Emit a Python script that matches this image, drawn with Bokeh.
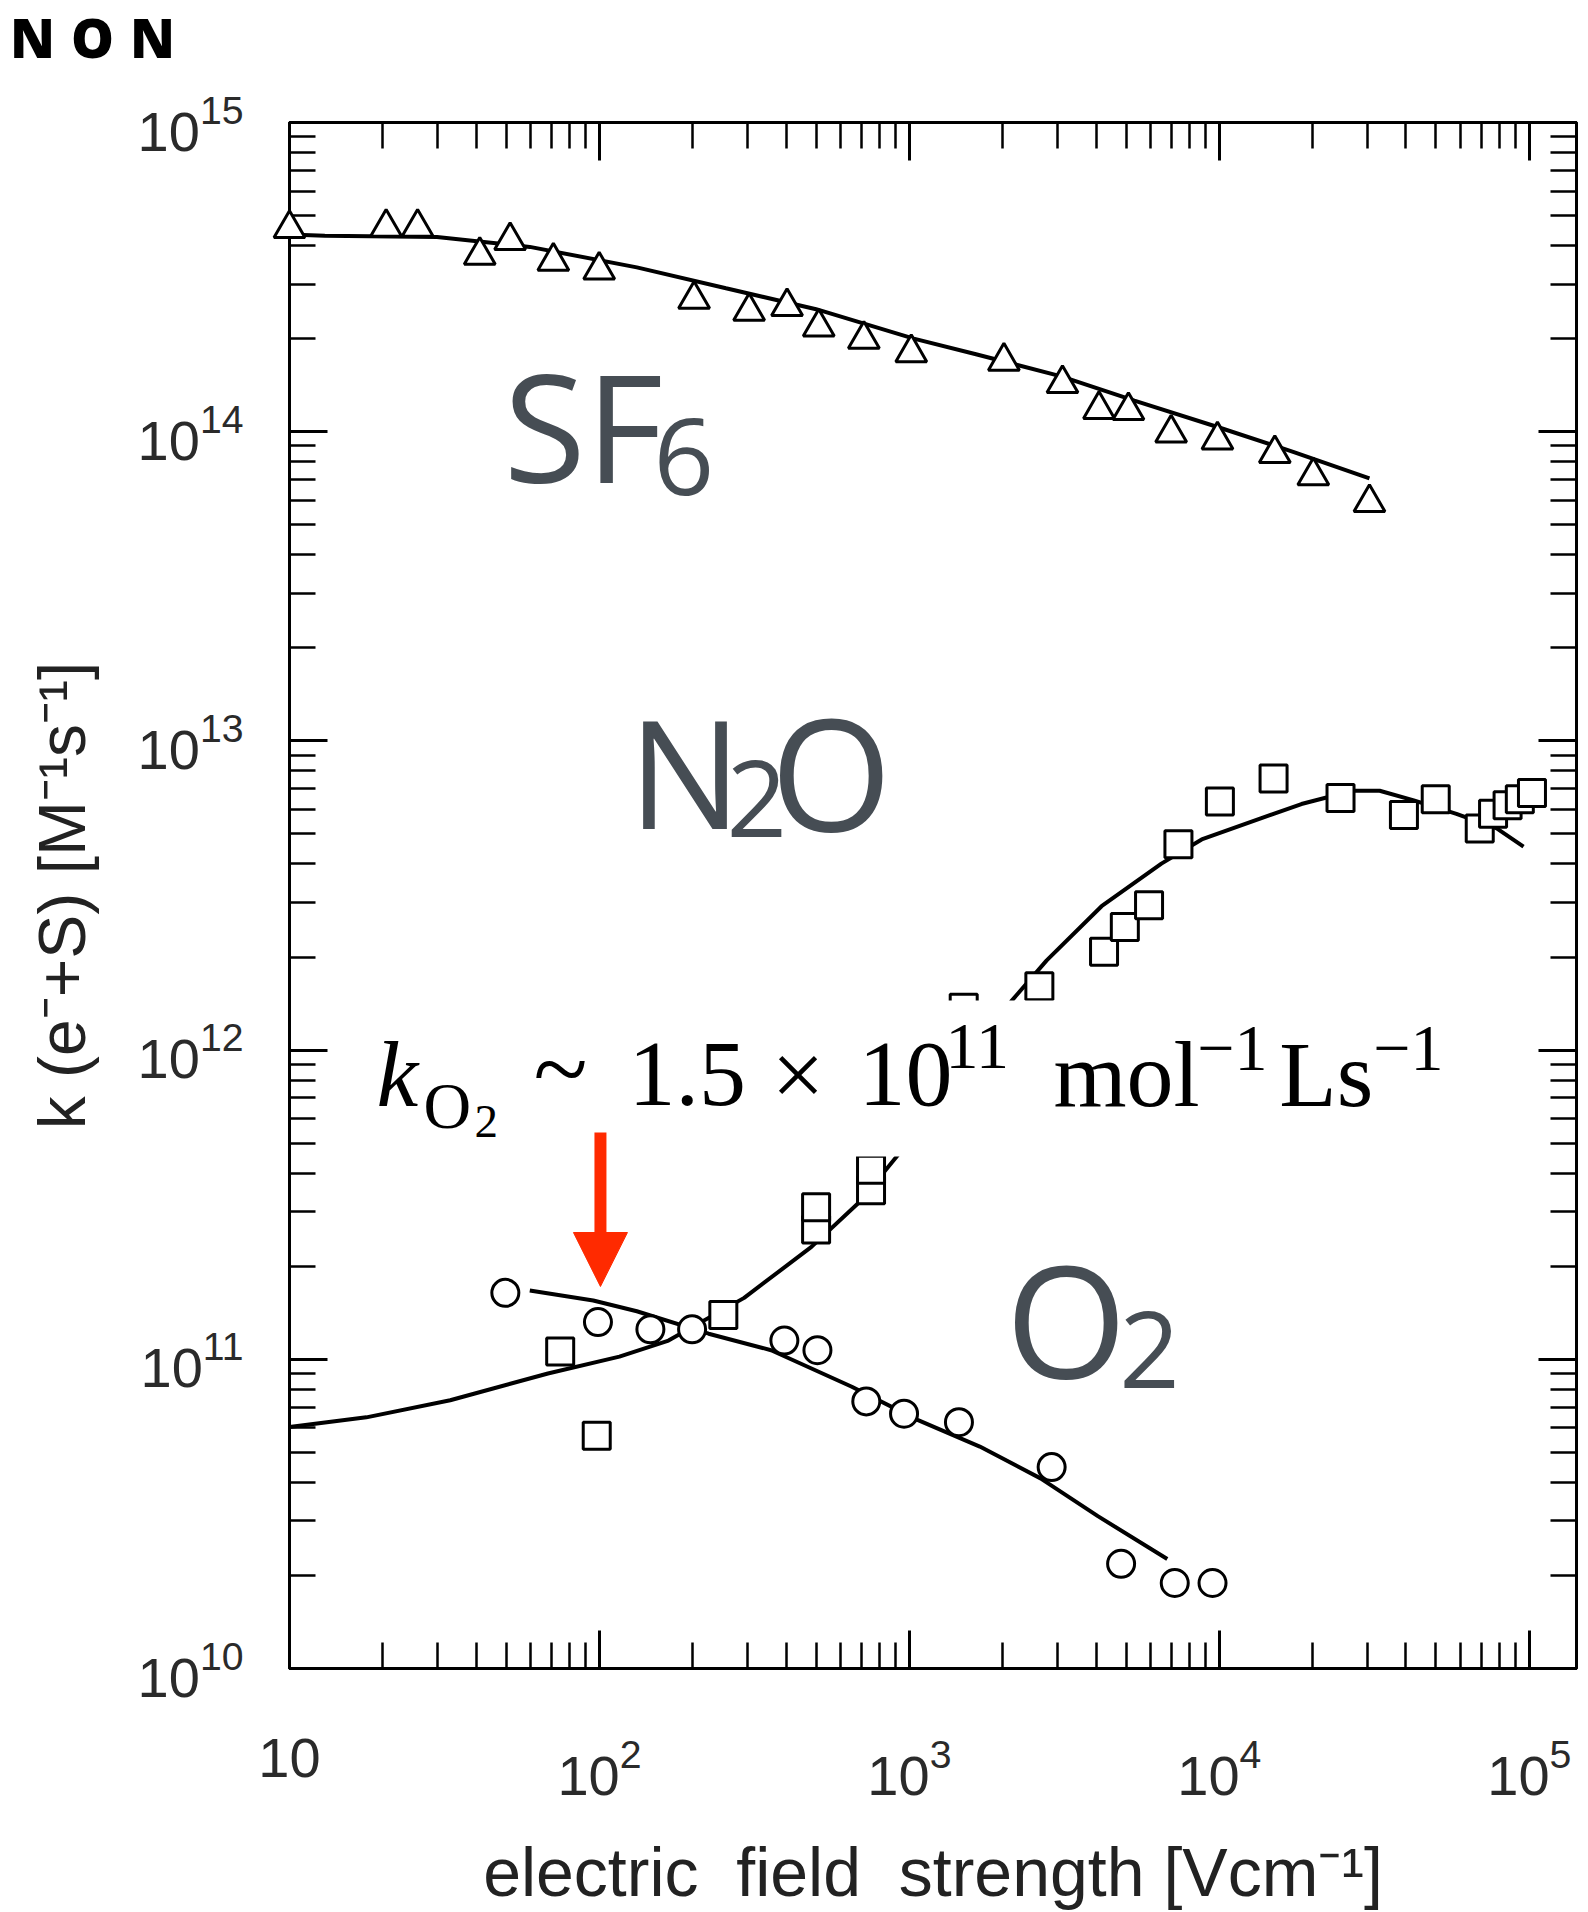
from bokeh.plotting import figure
from bokeh.models import (Range1d, LogAxis, FixedTicker, LogTickFormatter, Label,
                          BoxAnnotation, Arrow, NormalHead, Div)
from bokeh.layouts import column
from bokeh.embed import file_html
from bokeh.resources import INLINE

# ---------------- data ----------------
# SF6 (triangles)
E_sf6 = [10, 20.5, 25.9, 41.1, 51.5, 71, 99.8, 202, 304, 403, 510, 713, 1014, 2018,
         3118, 4090, 5090, 6990, 9860, 15100, 20100, 30500]
k_sf6 = [4.54e14, 4.58e14, 4.58e14, 3.72e14, 4.15e14, 3.56e14, 3.33e14, 2.68e14, 2.45e14,
         2.54e14, 2.18e14, 1.99e14, 1.80e14, 1.69e14, 1.43e14, 1.18e14, 1.17e14, 9.9e13,
         9.4e13, 8.5e13, 7.2e13, 5.9e13]
E_sf6_fit = [10, 13.0, 29.9, 59.6, 132, 256, 500, 1033, 1640, 3090, 5320, 10040, 17300, 30500]
k_sf6_fit = [4.34e14, 4.30e14, 4.26e14, 3.96e14, 3.40e14, 2.91e14, 2.49e14, 2.00e14, 1.78e14,
             1.51e14, 1.26e14, 1.03e14, 8.61e13, 7.06e13]

# N2O (squares)
E_n2o = [74.7, 98, 251, 500, 500, 752, 752, 1497, 2626, 4246, 4955, 5932, 7379, 10040,
         14960, 24600, 39400, 49900, 69200, 76400, 85100, 93200, 102000]
k_n2o = [1.06e11, 5.66e10, 1.39e11, 2.63e11, 3.10e11, 3.52e11, 4.10e11, 1.37e12, 1.61e12,
         2.08e12, 2.50e12, 2.94e12, 4.63e12, 6.37e12, 7.56e12, 6.54e12, 5.76e12, 6.48e12,
         5.21e12, 5.81e12, 6.19e12, 6.48e12, 6.78e12]
E_n2o_fit = [10, 17.7, 33.0, 68.2, 116, 167, 293, 483, 693, 910, 1368, 2133, 2773, 4169,
             6502, 8770, 18400, 26900, 32900, 42400, 58200, 78500, 95800]
k_n2o_fit = [6.04e10, 6.49e10, 7.37e10, 9.00e10, 1.02e11, 1.15e11, 1.58e11, 2.31e11,
             3.24e11, 4.53e11, 7.81e11, 1.44e12, 1.95e12, 2.92e12, 4.01e12, 4.80e12,
             6.25e12, 6.90e12, 6.90e12, 6.42e12, 5.81e12, 5.21e12, 4.55e12]

# O2 (circles)
E_o2 = [49.7, 98.9, 146, 199, 395, 505, 726, 961, 1445, 2877, 4820, 7180, 9506]
k_o2 = [1.64e11, 1.32e11, 1.25e11, 1.25e11, 1.15e11, 1.07e11, 7.31e10, 6.67e10, 6.26e10,
        4.48e10, 2.18e10, 1.89e10, 1.89e10]
E_o2_fit = [59.6, 95.5, 132, 225, 358, 652, 1062, 1687, 2649, 4055, 6792]
k_o2_fit = [1.67e11, 1.55e11, 1.43e11, 1.21e11, 1.07e11, 8.15e10, 6.37e10, 5.22e10,
            4.12e10, 3.11e10, 2.26e10]

# axes
x_major = [10, 100, 1000, 10000, 100000]
y_major = [1e10, 1e11, 1e12, 1e13, 1e14, 1e15]
X_MAX = 1.42e5
x_label = "electric\u00a0 field\u00a0 strength [Vcm\u207b\u00b9]"
y_label = "k (e\u207b+S) [M\u207b\u00b9s\u207b\u00b9]"
title_text = "NON"

# ---------------- layout helpers (annotation placement only) ----------------
HEAD_H = 74  # height of the title strip above the chart (page px)

# empirical baseline correction (fraction of font size) per font
BASE_FIX = {"Open Sans": 0.38, "Liberation Serif": 0.32}


def at(px, py):
    """page pixel -> data coordinates, for placing annotations"""
    return 10 ** (1 + (px - 289) / 310.0), 10 ** (15 - (py - 122) / 309.2)


x_minor = [m * 10 ** d for d in range(1, 6) for m in range(2, 10) if m * 10 ** d <= X_MAX]
y_minor = [m * 10.0 ** d for d in range(10, 15) for m in range(2, 10)]

p = figure(width=1588, height=1912 - HEAD_H, x_axis_type="log", y_axis_type="log",
           x_range=Range1d(10, X_MAX), y_range=Range1d(1e10, 1e15),
           output_backend="svg", toolbar_location=None,
           min_border_left=289, min_border_right=12, min_border_top=122 - HEAD_H,
           min_border_bottom=244, background_fill_color="white",
           border_fill_color="white", outline_line_color="black", outline_line_width=3)
p.xgrid.visible = False
p.ygrid.visible = False

x_ticker = FixedTicker(ticks=x_major, minor_ticks=x_minor)
y_ticker = FixedTicker(ticks=y_major, minor_ticks=y_minor)

TICKFONT = "Liberation Sans"


def style_axis(ax):
    ax.axis_line_width = 3
    ax.axis_line_color = "black"
    ax.major_tick_line_width = 3
    ax.minor_tick_line_width = 2.5
    ax.major_tick_line_color = "black"
    ax.minor_tick_line_color = "black"
    ax.major_tick_in = 38
    ax.major_tick_out = 0
    ax.minor_tick_in = 26
    ax.minor_tick_out = 0


xa = p.xaxis[0]
xa.ticker = x_ticker
xa.formatter = LogTickFormatter(min_exponent=2)
style_axis(xa)
xa.major_label_text_font = TICKFONT
xa.major_label_text_font_size = "56px"
xa.major_label_text_color = "#2a2a2a"
xa.major_label_standoff = 70
xa.axis_label = x_label
xa.axis_label_text_font = "Liberation Sans"
xa.axis_label_text_font_size = "68px"
xa.axis_label_text_font_style = "normal"
xa.axis_label_text_color = "#222222"
xa.axis_label_standoff = 36

ya = p.yaxis[0]
ya.ticker = y_ticker
ya.formatter = LogTickFormatter()
style_axis(ya)
ya.major_label_text_font = TICKFONT
ya.major_label_text_font_size = "56px"
ya.major_label_text_color = "#2a2a2a"
ya.major_label_standoff = 46
ya.axis_label = y_label
ya.axis_label_text_font = "Liberation Sans"
ya.axis_label_text_font_size = "66px"
ya.axis_label_text_font_style = "normal"
ya.axis_label_text_color = "#222222"
ya.axis_label_standoff = 36

top_ax = LogAxis(ticker=x_ticker, formatter=LogTickFormatter(min_exponent=2),
                 major_label_text_font_size="0px", major_label_text_color=None,
                 major_label_standoff=0)
style_axis(top_ax)
p.add_layout(top_ax, "above")
right_ax = LogAxis(ticker=y_ticker, formatter=LogTickFormatter(),
                   major_label_text_font_size="0px", major_label_text_color=None,
                   major_label_standoff=0)
style_axis(right_ax)
p.add_layout(right_ax, "right")

# ---------------- curves and points ----------------
LW = 4
p.line(E_sf6_fit, k_sf6_fit, line_color="black", line_width=LW)
p.line(E_n2o_fit, k_n2o_fit, line_color="black", line_width=LW)
p.line(E_o2_fit, k_o2_fit, line_color="black", line_width=LW)

p.scatter(E_sf6, k_sf6, marker="triangle", size=31, fill_color="white",
          line_color="black", line_width=3, level="overlay")
p.scatter(E_n2o, k_n2o, marker="square", size=27, fill_color="white",
          line_color="black", line_width=3)
p.scatter(E_o2, k_o2, marker="circle", size=27, fill_color="white",
          line_color="black", line_width=3)

# ---------------- white panel behind the rate annotation ----------------
bx0, by0 = at(360, 1156)
bx1, by1 = at(1465, 1000)
p.add_layout(BoxAnnotation(left=bx0, right=bx1, bottom=by0, top=by1,
                           fill_color="white", fill_alpha=1.0, line_color=None))

# ---------------- text runs ----------------
GRAY = "#464D54"
runs = [
    # text, page x, page baseline y, size, font, style, color
    ("SF", 503, 481, 150, "Open Sans", "normal", GRAY),
    ("6", 653, 497, 106, "Open Sans", "normal", GRAY),
    ("N", 628, 827, 150, "Open Sans", "normal", GRAY),
    ("2", 726, 839, 106, "Open Sans", "normal", GRAY),
    ("O", 770, 829, 156, "Open Sans", "normal", GRAY),
    ("O", 1005, 1376, 156, "Open Sans", "normal", GRAY),
    ("2", 1119, 1390, 106, "Open Sans", "normal", GRAY),
    ("k", 376, 1104, 94, "Liberation Serif", "italic", "black"),
    ("O", 423, 1126, 66, "Liberation Serif", "normal", "black"),
    ("2", 474, 1136, 47, "Liberation Serif", "normal", "black"),
    ("~", 533, 1100, 100, "Liberation Serif", "normal", "black"),
    ("1.5", 628, 1104, 94, "Liberation Serif", "normal", "black"),
    ("\u00d7", 771, 1104, 94, "Liberation Serif", "normal", "black"),
    ("10", 858, 1104, 94, "Liberation Serif", "normal", "black"),
    ("11", 945, 1067, 66, "Liberation Serif", "normal", "black"),
    ("mol", 1053, 1104, 94, "Liberation Serif", "normal", "black"),
    ("\u22121", 1197, 1069, 66, "Liberation Serif", "normal", "black"),
    ("Ls", 1279, 1104, 94, "Liberation Serif", "normal", "black"),
    ("\u22121", 1373, 1069, 66, "Liberation Serif", "normal", "black"),
]
for txt, px, py, size, font, style, color in runs:
    lx, ly = at(px, py - BASE_FIX[font] * size)
    p.add_layout(Label(x=lx, y=ly, text=txt, text_font=font, text_font_size=f"{size}px",
                       text_font_style=style, text_color=color, text_align="left",
                       text_baseline="alphabetic"))

# ---------------- red arrow ----------------
ax0, ay0 = at(600, 1132)
ax1, ay1 = at(600, 1286)
p.add_layout(Arrow(x_start=ax0, y_start=ay0, x_end=ax1, y_end=ay1,
                   line_color="#FF2A00", line_width=12,
                   end=NormalHead(size=54, fill_color="#FF2A00", line_color="#FF2A00",
                                  line_width=1)))

head = Div(text=title_text, width=1588, height=HEAD_H,
           styles={"font-family": "Open Sans", "font-weight": "800", "font-size": "54px",
                   "line-height": "normal", "color": "black", "padding-left": "10px",
                   "letter-spacing": "16px", "margin": "0"})

layout = column(head, p)
open("out.html", "w").write(file_html(layout, INLINE))
